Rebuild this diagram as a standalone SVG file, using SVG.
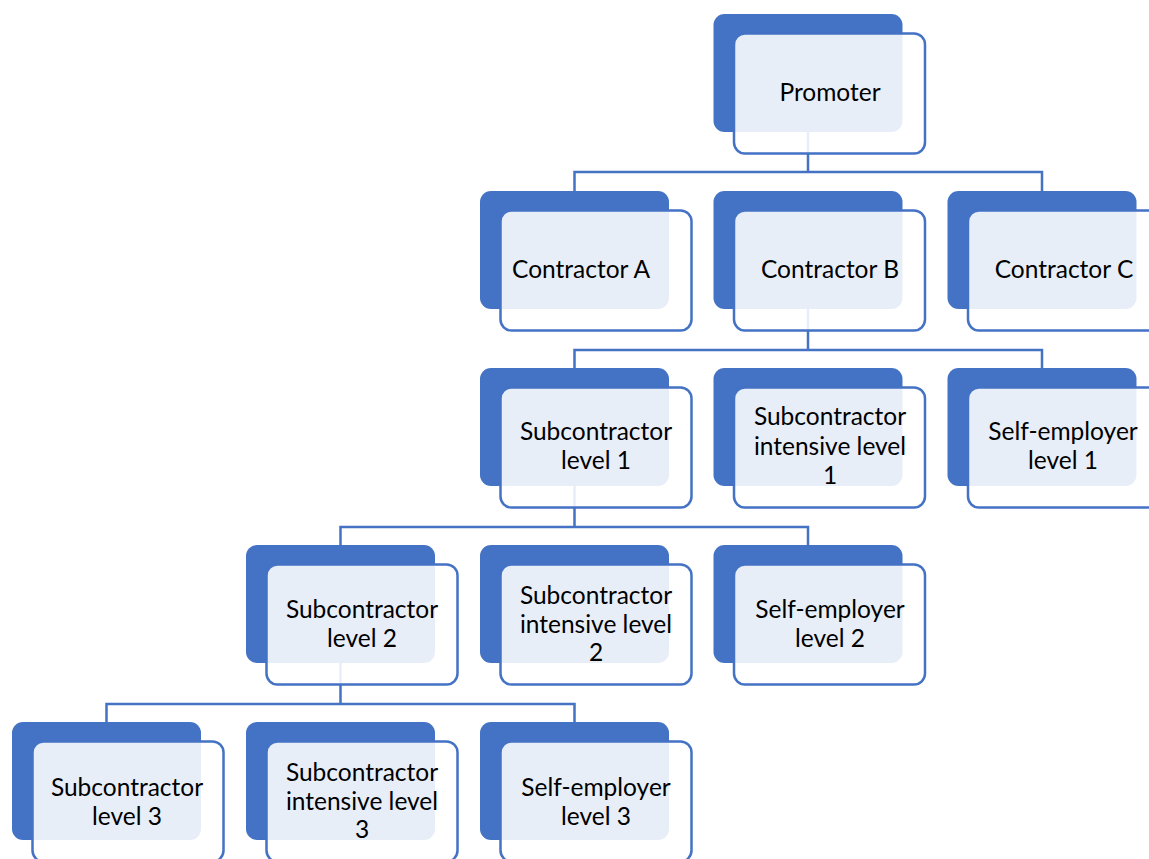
<svg xmlns="http://www.w3.org/2000/svg" width="1149" height="859" viewBox="0 0 1149 859">
  <style>
    .back { fill: #4472C4; }
    .front { fill: #ffffff; fill-opacity: 0.88; stroke: #4472C4; stroke-width: 2.5; }
    .conn { fill: none; stroke: #4472C4; stroke-width: 2.5; }
    .lbl { font-family: Lato, "Liberation Sans", sans-serif; font-size: 24.5px; fill: #000000; text-anchor: middle; }
  </style>
  <rect width="1149" height="859" fill="#ffffff"/>

  <!-- elbow connectors, drawn beneath the node boxes -->
  <g id="connectors">
    <path class="conn" d="M808,132 V172 M574.5,191 V172 H1042 V191"/>
    <path class="conn" d="M808,309 V350 M574.5,368 V350 H1042 V368"/>
    <path class="conn" d="M574.5,486 V527 M340.5,545 V527 H808 V545"/>
    <path class="conn" d="M340.5,663 V704 M106.5,722 V704 H574.5 V722"/>
  </g>

  <g id="promoter">
    <rect class="back" x="713.5" y="14" width="189" height="118" rx="11"/>
    <rect class="front" x="734" y="33.5" width="191" height="120" rx="11"/>
    <text class="lbl" x="830" y="100.5">Promoter</text>
  </g>

  <g id="contractor-a">
    <rect class="back" x="480" y="191" width="189" height="118" rx="11"/>
    <rect class="front" x="500.5" y="210.5" width="191" height="120" rx="11"/>
    <text class="lbl" x="581" y="278">Contractor A</text>
  </g>
  <g id="contractor-b">
    <rect class="back" x="713.5" y="191" width="189" height="118" rx="11"/>
    <rect class="front" x="734" y="210.5" width="191" height="120" rx="11"/>
    <text class="lbl" x="830" y="278">Contractor B</text>
  </g>
  <g id="contractor-c">
    <rect class="back" x="947.5" y="191" width="189" height="118" rx="11"/>
    <rect class="front" x="968" y="210.5" width="191" height="120" rx="11"/>
    <text class="lbl" x="1064" y="278">Contractor C</text>
  </g>

  <g id="subcontractor-level-1">
    <rect class="back" x="480" y="368" width="189" height="118" rx="11"/>
    <rect class="front" x="500.5" y="387.5" width="191" height="120" rx="11"/>
    <text class="lbl" x="596" y="440">Subcontractor</text>
    <text class="lbl" x="596" y="469">level 1</text>
  </g>
  <g id="subcontractor-intensive-level-1">
    <rect class="back" x="713.5" y="368" width="189" height="118" rx="11"/>
    <rect class="front" x="734" y="387.5" width="191" height="120" rx="11"/>
    <text class="lbl" x="830" y="425">Subcontractor</text>
    <text class="lbl" x="830" y="455">intensive level</text>
    <text class="lbl" x="830" y="484">1</text>
  </g>
  <g id="self-employer-level-1">
    <rect class="back" x="947.5" y="368" width="189" height="118" rx="11"/>
    <rect class="front" x="968" y="387.5" width="191" height="120" rx="11"/>
    <text class="lbl" x="1063" y="440">Self-employer</text>
    <text class="lbl" x="1063" y="469">level 1</text>
  </g>

  <g id="subcontractor-level-2">
    <rect class="back" x="246" y="545" width="189" height="118" rx="11"/>
    <rect class="front" x="266.5" y="564.5" width="191" height="120" rx="11"/>
    <text class="lbl" x="362" y="618">Subcontractor</text>
    <text class="lbl" x="362" y="647">level 2</text>
  </g>
  <g id="subcontractor-intensive-level-2">
    <rect class="back" x="480" y="545" width="189" height="118" rx="11"/>
    <rect class="front" x="500.5" y="564.5" width="191" height="120" rx="11"/>
    <text class="lbl" x="596" y="604">Subcontractor</text>
    <text class="lbl" x="596" y="633">intensive level</text>
    <text class="lbl" x="596" y="661">2</text>
  </g>
  <g id="self-employer-level-2">
    <rect class="back" x="713.5" y="545" width="189" height="118" rx="11"/>
    <rect class="front" x="734" y="564.5" width="191" height="120" rx="11"/>
    <text class="lbl" x="830" y="618">Self-employer</text>
    <text class="lbl" x="830" y="647">level 2</text>
  </g>

  <g id="subcontractor-level-3">
    <rect class="back" x="12" y="722" width="189" height="118" rx="11"/>
    <rect class="front" x="32.5" y="741.5" width="191" height="120" rx="11"/>
    <text class="lbl" x="127" y="796">Subcontractor</text>
    <text class="lbl" x="127" y="825">level 3</text>
  </g>
  <g id="subcontractor-intensive-level-3">
    <rect class="back" x="246" y="722" width="189" height="118" rx="11"/>
    <rect class="front" x="266.5" y="741.5" width="191" height="120" rx="11"/>
    <text class="lbl" x="362" y="781">Subcontractor</text>
    <text class="lbl" x="362" y="810">intensive level</text>
    <text class="lbl" x="362" y="838">3</text>
  </g>
  <g id="self-employer-level-3">
    <rect class="back" x="480" y="722" width="189" height="118" rx="11"/>
    <rect class="front" x="500.5" y="741.5" width="191" height="120" rx="11"/>
    <text class="lbl" x="596" y="796">Self-employer</text>
    <text class="lbl" x="596" y="825">level 3</text>
  </g>
</svg>
